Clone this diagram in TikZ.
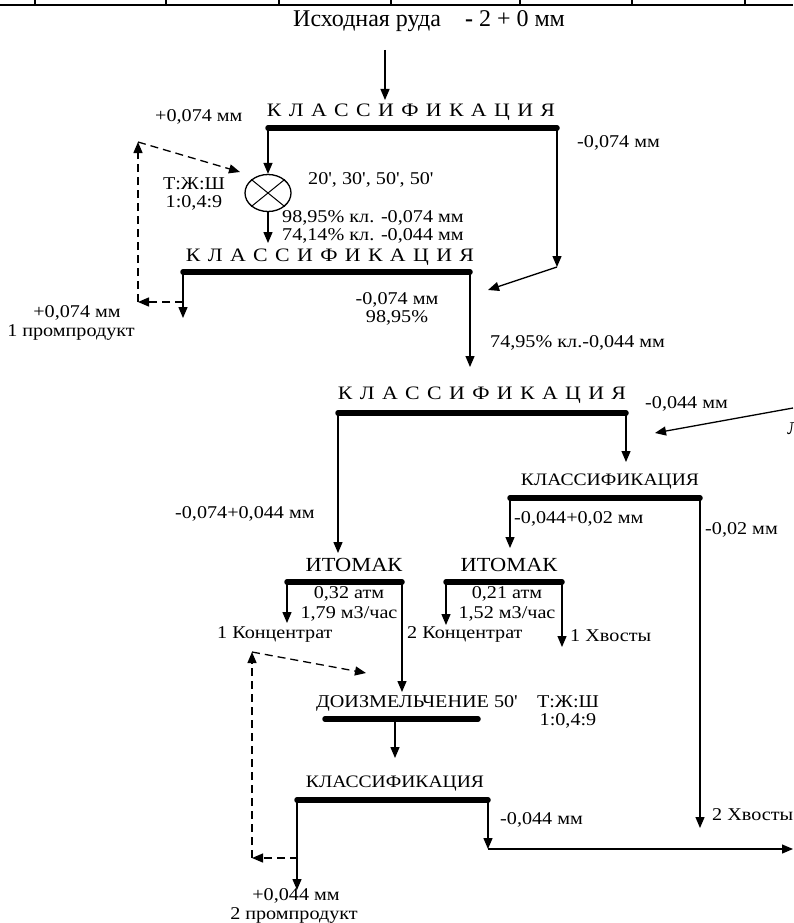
\documentclass[tikz,border=0pt]{standalone}
\usepackage{fontspec}
\setmainfont{Liberation Serif}
\newfontfamily\widefamily[FakeStretch=1.12]{Liberation Serif}
\newfontfamily\spacedfamily[FakeStretch=1.15,WordSpace=1.35]{Liberation Serif}
\usetikzlibrary{arrows.meta,shapes.geometric}

\tikzset{
  bar/.style={line width=5.5pt, line cap=round},
  flow/.style={-{Triangle[length=11pt,width=9pt]}, line width=1.3pt},
  recycle/.style={flow, dash pattern=on 8pt off 5pt},
  lbl/.style={font=\widefamily\fontsize{18}{18}\selectfont, inner sep=0pt, align=center},
  sp/.style={font=\spacedfamily\fontsize{19}{20}\selectfont, inner sep=0pt},
  head/.style={font=\widefamily\fontsize{#1}{20}\selectfont, inner sep=0pt},
  head/.default=17.5
}

\begin{document}
\begin{tikzpicture}[x=1pt,y=-1pt]
\useasboundingbox (0,0) rectangle (793,923);

% table edge at the top
\draw[line width=1.5pt] (0,5) -- (793,5);
\foreach \t in {35,166,279,391,520,632,745}
  \draw[line width=1.3pt] (\t,0) -- (\t,5);

% feed
\node[font=\fontsize{24}{26}\selectfont, inner sep=0pt, anchor=west] (src) at (293,21)
  {Исходная руда\quad\textbf{-} 2 + 0 мм};
\coordinate (s0) at (385,50);

% first classification + mill
\node[sp] (cl1) at (411,112) {К Л А С С И Ф И К А Ц И Я};
\coordinate (cl1l) at (268,128);
\coordinate (cl1r) at (557,128);
\draw[bar] (cl1l) -- (cl1r);
\draw[flow] (s0) -- (385,100);
\node[ellipse, draw, line width=1.3pt, minimum width=46pt, minimum height=37pt, inner sep=0pt] (mill) at (268,193) {};
\draw[line width=1pt] (mill.north west) -- (mill.south east)
                      (mill.north east) -- (mill.south west);
\draw[flow] (cl1l) -- (mill.north);
\coordinate (k1) at (557,267);
\coordinate (k2) at (488,290);
\draw[flow] (cl1r) -- (k1);
\draw[flow] (k1) -- (k2);
\coordinate (m1) at (268,243);
\draw[flow] (mill.south) -- (m1);

\node[lbl, anchor=west] (p1) at (155,117) {+0,074 мм};
\node[lbl, anchor=west] (n1) at (577,143) {-0,074 мм};
\node[lbl, anchor=west] (tm) at (308,180) {20', 30', 50', 50'};
\node[lbl] (tzh1) at (194,194) {Т:Ж:Ш\\1:0,4:9};
\node[lbl, anchor=west] (g1) at (282,218) {98,95\% кл. -0,074 мм};
\node[lbl, anchor=west] (g2) at (282,236) {74,14\% кл. -0,044 мм};

% second classification
\node[sp] (cl2) at (330,257) {К Л А С С И Ф И К А Ц И Я};
\coordinate (cl2l) at (183,272);
\coordinate (cl2r) at (470,272);
\draw[bar] (cl2l) -- (cl2r);
\draw[flow] (cl2l) -- (183,318);
\draw[flow] (cl2r) -- (470,367);
\coordinate (r1) at (183,302);
\coordinate (r2) at (138,302);
\coordinate (r3) at (138,142);
\coordinate (r4) at (240,172);
\draw[recycle] (r1) -- (r2);
\draw[recycle] (r2) -- (r3);
\draw[recycle] (r3) -- (r4);

\node[lbl] (pp1) at (77,313) {+0,074 мм};
\node[lbl] (pp1b) at (71,332) {1 промпродукт};
\node[lbl] (n2) at (397,309) {-0,074 мм\\98,95\%};
\node[lbl, anchor=west] (g3) at (490,343) {74,95\% кл.-0,044 мм};

% third classification
\node[sp] (cl3) at (482,395) {К Л А С С И Ф И К А Ц И Я};
\coordinate (cl3l) at (338,413);
\coordinate (cl3r) at (626,413);
\draw[bar] (cl3l) -- (cl3r);
\draw[flow] (cl3r) -- (626,462);
\coordinate (e1) at (793,408);
\coordinate (e2) at (655,433);
\draw[flow] (e1) -- (e2);
\node[lbl, anchor=west] (ecut) at (787,429) {Л};
\node[lbl, anchor=west] (n3) at (645,404) {-0,044 мм};
\node[lbl, anchor=west] (f1) at (175,514) {-0,074+0,044 мм};
\coordinate (it1in) at (338,553);
\draw[flow] (cl3l) -- (it1in);

% fourth classification
\node[head] (cl4) at (610,482) {КЛАССИФИКАЦИЯ};
\coordinate (cl4l) at (510,498);
\coordinate (cl4r) at (700,498);
\draw[bar] (cl4l) -- (cl4r);
\draw[flow] (cl4l) -- (510,548);
\draw[flow] (cl4r) -- (700,828);
\node[lbl, anchor=west] (f2) at (514,519) {-0,044+0,02 мм};
\node[lbl, anchor=west] (f3) at (705,530) {-0,02 мм};
\node[lbl, anchor=west] (t2) at (712,815) {2 Хвосты};

% ITOMAK separators
\node[head=20] (it1) at (354,565) {ИТОМАК};
\coordinate (it1l) at (287,582);
\coordinate (it1r) at (402,582);
\draw[bar] (it1l) -- (it1r);
\draw[flow] (it1l) -- (287,623);
\node[lbl] (it1p) at (349,604) {0,32 атм\\[2pt]1,79 м3/час};
\node[lbl, anchor=west] (c1) at (217,634) {1 Концентрат};

\node[head=20] (it2) at (509,565) {ИТОМАК};
\coordinate (it2l) at (446,582);
\coordinate (it2r) at (562,582);
\draw[bar] (it2l) -- (it2r);
\draw[flow] (it2l) -- (446,625);
\draw[flow] (it2r) -- (562,647);
\node[lbl] (it2p) at (507,604) {0,21 атм\\[2pt]1,52 м3/час};
\node[lbl, anchor=west] (c2) at (407,634) {2 Концентрат};
\node[lbl, anchor=west] (t1) at (570,636) {1 Хвосты};

% regrinding
\node[head=18] (dz) at (417,703) {ДОИЗМЕЛЬЧЕНИЕ 50'};
\coordinate (dzl) at (325,719);
\coordinate (dzr) at (478,719);
\draw[bar] (dzl) -- (dzr);
\draw[flow] (it1r) -- (402,692);
\draw[flow] (395,719) -- (395,758);
\node[lbl] (tzh2) at (568,712) {Т:Ж:Ш\\1:0,4:9};

% last classification
\node[head] (cl5) at (395,784) {КЛАССИФИКАЦИЯ};
\coordinate (cl5l) at (297,800);
\coordinate (cl5r) at (488,800);
\draw[bar] (cl5l) -- (cl5r);
\draw[flow] (cl5l) -- (297,890);
\coordinate (w1) at (488,849);
\coordinate (w2) at (793,849);
\draw[flow] (cl5r) -- (w1);
\draw[flow] (w1) -- (w2);
\node[lbl, anchor=west] (n5) at (500,820) {-0,044 мм};
\node[lbl] (pp2) at (296,896) {+0,044 мм};
\node[lbl] (pp2b) at (294,915) {2 промпродукт};
\coordinate (q1) at (298,858);
\coordinate (q2) at (252,858);
\coordinate (q3) at (252,652);
\coordinate (q4) at (366,673);
\draw[recycle] (q1) -- (q2);
\draw[recycle] (q2) -- (q3);
\draw[recycle] (q3) -- (q4);
\end{tikzpicture}
\end{document}
